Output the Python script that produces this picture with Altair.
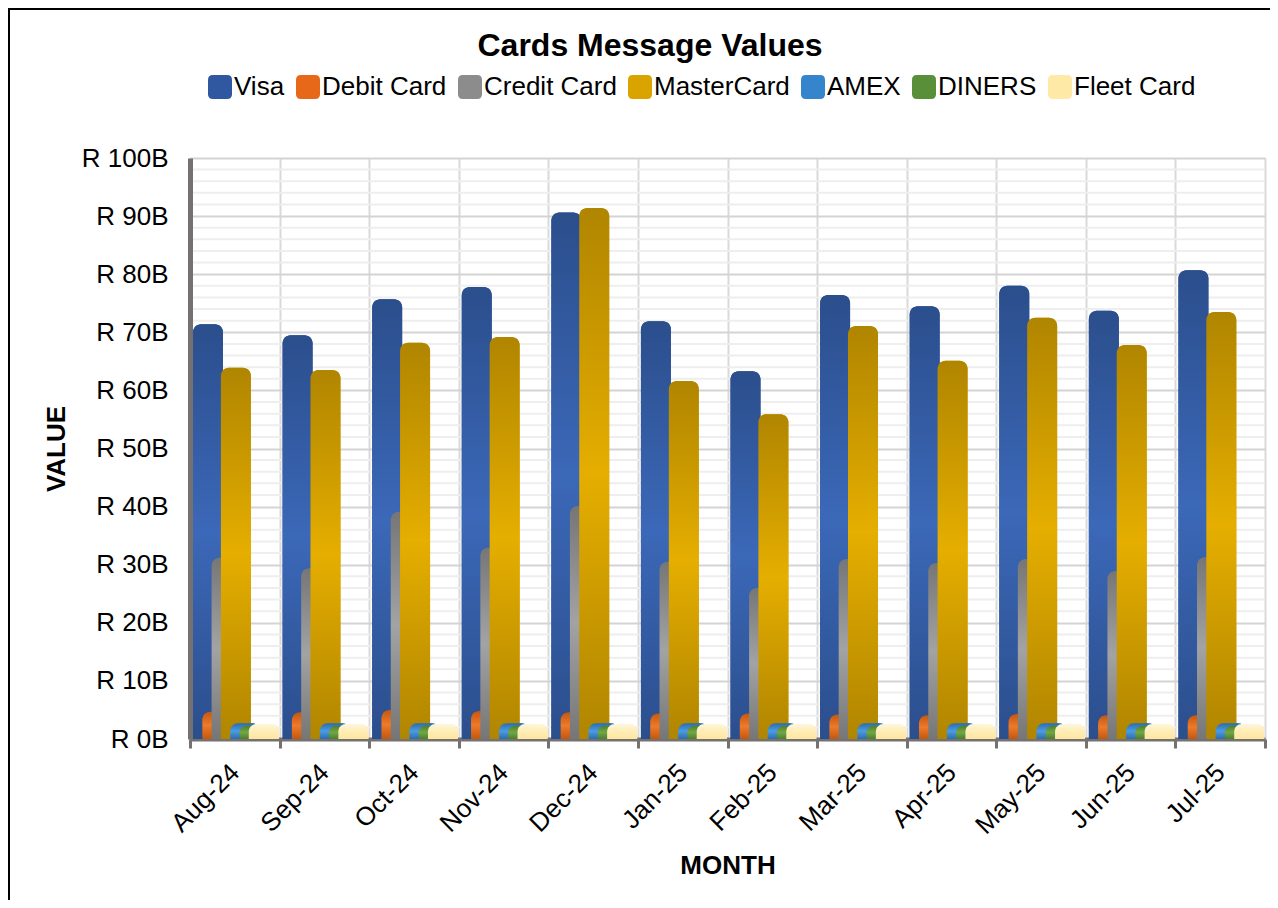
import json
import altair as alt
import pandas as pd

# ---------------- data (values in billions of Rand) ----------------
months = ["Aug-24", "Sep-24", "Oct-24", "Nov-24", "Dec-24", "Jan-25",
          "Feb-25", "Mar-25", "Apr-25", "May-25", "Jun-25", "Jul-25"]
series = ["Visa", "Debit Card", "Credit Card", "MasterCard", "AMEX", "DINERS", "Fleet Card"]

visa = [71.4, 69.5, 75.7, 77.8, 90.6, 71.9, 63.3, 76.4, 74.5, 78.0, 73.7, 80.7]
debit = [4.7, 4.6, 5.0, 4.8, 4.6, 4.4, 4.4, 4.2, 4.1, 4.3, 4.1, 4.1]
credit = [31.2, 29.4, 39.1, 32.9, 40.1, 30.5, 26.0, 31.0, 30.3, 31.0, 28.9, 31.3]
master = [63.9, 63.5, 68.2, 69.2, 91.4, 61.6, 55.9, 71.1, 65.1, 72.5, 67.8, 73.5]
amex = [2.7, 2.7, 2.7, 2.7, 2.7, 2.7, 2.7, 2.7, 2.7, 2.7, 2.7, 2.7]
diners = [2.3, 2.3, 2.3, 2.3, 2.3, 2.3, 2.3, 2.3, 2.3, 2.3, 2.3, 2.3]
fleet = [2.6, 2.6, 2.6, 2.6, 2.6, 2.6, 2.6, 2.6, 2.6, 2.6, 2.6, 2.6]

major_ticks = list(range(0, 101, 10))
minor_ticks = [v for v in range(0, 101, 2) if v % 10 != 0]
chart_title = "Cards Message Values"

# ---------------- styling ----------------
FONT = "Liberation Sans"
legend_colors = ["#3058A0", "#E8681A", "#8C8C8C", "#D9A400", "#3585CC", "#5A8F3A", "#FFE9A6"]
gradients = {
    "Visa": ["#2B4E8C", "#3B68B8", "#2B4E8C"],
    "Debit Card": ["#C4570F", "#EE7A2A", "#C4570F"],
    "Credit Card": ["#767676", "#A3A3A3", "#767676"],
    "MasterCard": ["#B08500", "#E5AE00", "#B08500"],
    "AMEX": ["#2A6DB0", "#4C9BE0", "#2A6DB0"],
    "DINERS": ["#4E7D2E", "#70A845", "#4E7D2E"],
    "Fleet Card": ["#FFF6DD", "#FFEDB5", "#FFE6A0"],
}
W, H = 1075, 581
CAT_PX = W / 12.0
BAR_OFF = 3 / CAT_PX     # offset of first bar within a month
BAR_STEP = 9.3 / CAT_PX  # shift between overlapping bars
BAR_W = 30 / CAT_PX      # bar width
RADIUS = 8

rows = []
for si, (name, vals) in enumerate(zip(series, [visa, debit, credit, master, amex, diners, fleet])):
    for mi, v in enumerate(vals):
        rows.append({"month": months[mi], "mi": mi, "series": name, "si": si, "value": v})
df = pd.DataFrame(rows)

months_js = json.dumps(months)

x_scale = alt.Scale(domain=[0, 12], nice=False, zero=False)
y_scale = alt.Scale(domain=[0, 100], nice=False)

x_axis = alt.Axis(
    values=list(range(13)),
    labelExpr=f"datum.value < 12 ? {months_js}[datum.value] : ''",
    labelAngle=-45, labelAlign="right", labelBaseline="middle",
    labelOffset=CAT_PX / 2, labelPadding=20, labelFlush=False,
    labelFontSize=26, labelFont=FONT, labelColor="#000000",
    labelOverlap=False,
    tickSize=9, tickWidth=3, tickColor="#767171",
    domainColor="#767171", domainWidth=4,
    grid=True, gridColor="#D9D9D9", gridWidth=2,
    title="MONTH", titleFont=FONT, titleFontSize=26, titleFontWeight="bold",
    titleColor="#000000", titleBaseline="alphabetic", titleY=134,
)
y_axis = alt.Axis(
    values=major_ticks,
    labelExpr="'R ' + datum.value + 'B'",
    labelFontSize=26, labelFont=FONT, labelColor="#000000",
    labelPadding=22, labelOverlap=False,
    ticks=False,
    domainColor="#767171", domainWidth=5,
    grid=True, gridColor="#D4D4D4", gridWidth=2,
    title="VALUE", titleFont=FONT, titleFontSize=26, titleFontWeight="bold",
    titleColor="#000000", titleX=-134, titleY=H / 2, titleAngle=-90,
    titleAlign="center", titleBaseline="middle",
)

legend_symbol = ("M -0.6,-1 L 0.6,-1 Q 1,-1 1,-0.6 L 1,0.6 Q 1,1 0.6,1 L -0.6,1 "
                 "Q -1,1 -1,0.6 L -1,-0.6 Q -1,-1 -0.6,-1 Z")

# minor gridlines (drawn first, beneath the bars; kept clear of the y-axis line)
minor = alt.Chart(pd.DataFrame({"value": minor_ticks})).mark_rule(
    color="#EEEEEE", strokeWidth=2
).encode(y=alt.Y("value:Q", scale=y_scale, axis=y_axis), x=alt.value(3), x2=alt.value(W))

bars_base = alt.Chart(df).transform_calculate(
    x0=f"datum.mi + {BAR_OFF} + datum.si * {BAR_STEP}",
    x1=f"datum.mi + {BAR_OFF} + datum.si * {BAR_STEP} + {BAR_W}",
    zero="0",
)

solid = bars_base.mark_rect(cornerRadiusTopLeft=RADIUS, cornerRadiusTopRight=RADIUS).encode(
    color=alt.Color("series:N",
                    scale=alt.Scale(domain=series, range=legend_colors),
                    sort=series,
                    legend=alt.Legend(
                        title=None, orient="none", direction="horizontal",
                        legendX=17, legendY=-84,
                        symbolType=legend_symbol, symbolSize=576,
                        symbolStrokeWidth=0, symbolOpacity=1,
                        labelFontSize=26, labelFont=FONT, labelColor="#000000",
                        labelOffset=1, columnPadding=10, columns=7,
                        labelLimit=400,
                    )),
)

bar_layers = [solid]
for name in series:
    c = gradients[name]
    grad = alt.LinearGradient(
        gradient="linear", x1=0, y1=0, x2=0, y2=1,
        stops=[alt.GradientStop(offset=0, color=c[0]),
               alt.GradientStop(offset=0.5, color=c[1]),
               alt.GradientStop(offset=1, color=c[2])])
    bar_layers.append(
        bars_base.transform_filter(alt.datum.series == name)
        .mark_rect(fill=grad, cornerRadiusTopLeft=RADIUS, cornerRadiusTopRight=RADIUS)
    )

bars = alt.layer(*bar_layers).encode(
    x=alt.X("x0:Q", scale=x_scale, axis=x_axis), x2="x1:Q",
    y=alt.Y("value:Q", scale=y_scale, axis=y_axis), y2="zero:Q")

title = alt.Chart(pd.DataFrame({"t": [chart_title]})).mark_text(
    font=FONT, fontSize=32, fontWeight="bold", color="#000000",
    align="center", baseline="alphabetic"
).encode(text="t:N", x=alt.value(460), y=alt.value(-102))

border = alt.Chart(pd.DataFrame({"b": [1]})).mark_rect(
    fill="transparent", stroke="#000000", strokeWidth=2
).encode(x=alt.value(-181), x2=alt.value(1095), y=alt.value(-149), y2=alt.value(770))

chart = alt.layer(minor, bars, title, border).properties(
    width=W, height=H,
    autosize=alt.AutoSizeParams(type="none"),
    padding={"left": 182, "top": 150, "right": 5, "bottom": 161},
).configure_view(stroke=None).configure(background="white")

chart.save("out.html", embed_options={"renderer": "svg", "actions": False})
